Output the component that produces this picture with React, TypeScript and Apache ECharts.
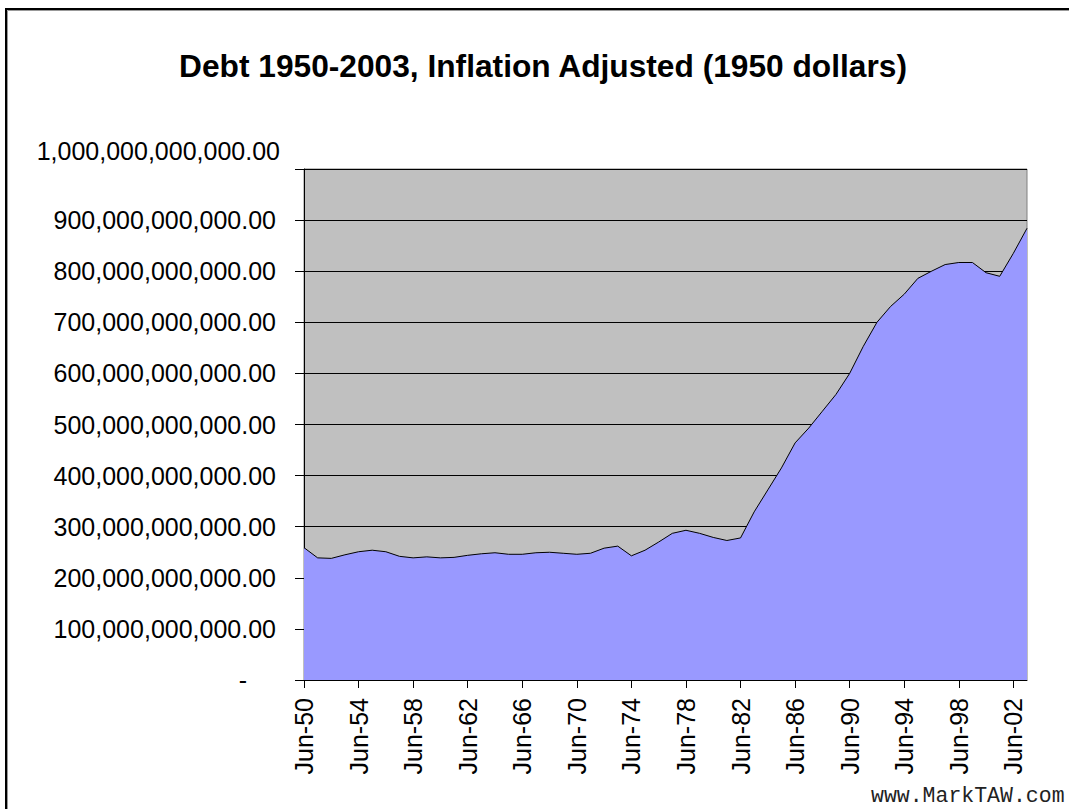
import React, { useEffect, useRef } from "react";
import * as echarts from "echarts";

const years: number[] = [];
for (let y = 1950; y <= 2003; y++) years.push(y);
const categories = years.map((y) => "Jun-" + String(y % 100).padStart(2, "0"));

// Debt in billions of 1950 dollars
const debtBillions = [
  259, 239, 238, 245, 251, 254, 251, 242, 239, 241,
  239, 240, 244, 247, 249, 246, 246, 249, 250, 248,
  246, 248, 258, 262, 243, 254, 270, 287, 293, 287,
  279, 273, 278, 329, 372, 415, 464, 493, 526, 559,
  600, 653, 700, 731, 755, 786, 800, 813, 817, 817,
  797, 790, 835, 884,
];
const debt = debtBillions.map((v) => v * 1e9);

const titleText = "Debt 1950-2003, Inflation Adjusted (1950 dollars)";
const topLabel = "1,000,000,000,000.00";
const watermark = "www.MarkTAW.com";

function fmt(v: number): string {
  const s = Math.round(v).toString();
  return s.replace(/\B(?=(\d{3})+(?!\d))/g, ",") + ".00";
}

export default function App() {
  const ref = useRef<HTMLDivElement>(null);
  useEffect(() => {
    if (!ref.current) return;
    const chart = echarts.init(ref.current, undefined, { renderer: "svg" });
    const font = "'Liberation Sans', Arial, sans-serif";
    chart.setOption({
      animation: false,
      backgroundColor: "#ffffff",
      grid: {
        left: 304,
        right: 42,
        top: 169,
        bottom: 129,
        show: true,
        backgroundColor: "#C0C0C0",
        borderColor: "#808080",
        borderWidth: 1,
      },
      xAxis: {
        type: "category",
        data: categories,
        boundaryGap: false,
        axisLine: { lineStyle: { color: "#000", width: 1 } },
        axisTick: { interval: 3, length: 8, lineStyle: { color: "#000" } },
        axisLabel: {
          interval: 3,
          rotate: 90,
          margin: 18,
          fontFamily: font,
          fontSize: 25,
          color: "#000",
        },
        splitLine: { show: false },
      },
      yAxis: {
        type: "value",
        min: 0,
        max: 1e12,
        interval: 1e11,
        axisLine: { show: true, lineStyle: { color: "#000", width: 1 } },
        axisTick: { show: true, length: 9, lineStyle: { color: "#000" } },
        axisLabel: {
          margin: 28,
          fontFamily: font,
          fontSize: 25,
          color: "#000",
          formatter: (v: number) => (v === 0 ? "{d|-}" : v >= 1e12 ? "" : fmt(v)),
          rich: { d: { fontFamily: font, fontSize: 25, color: "#000", padding: [0, 29, 0, 0] } },
        },
        splitLine: { show: true, lineStyle: { color: "#000", width: 1 } },
      },
      series: [
        {
          type: "line",
          data: debt,
          symbol: "none",
          lineStyle: { color: "#000", width: 1 },
          areaStyle: { color: "#9999FF", opacity: 1 },
          z: 1,
        },
      ],
      graphic: [
        {
          type: "rect",
          shape: { x: 6, y: 9, width: 1200, height: 1000 },
          style: { fill: "none", stroke: "#000", lineWidth: 2 },
          silent: true,
        },
        {
          type: "rect",
          shape: { x: 7.5, y: 10.5, width: 1200, height: 1000 },
          style: { fill: "none", stroke: "#999", lineWidth: 1 },
          silent: true,
        },
        {
          type: "text",
          x: 543,
          y: 66,
          style: {
            text: titleText,
            fontFamily: font,
            fontSize: 31.7,
            fontWeight: "bold",
            fill: "#000",
            textAlign: "center",
            textVerticalAlign: "middle",
          },
        },
        {
          type: "text",
          x: 280,
          y: 151,
          style: {
            text: topLabel,
            fontFamily: font,
            fontSize: 25,
            fill: "#000",
            textAlign: "right",
            textVerticalAlign: "middle",
          },
        },
        {
          type: "text",
          x: 871,
          y: 796,
          style: {
            text: watermark,
            fontFamily: "'Liberation Mono', 'Courier New', monospace",
            fontSize: 21.5,
            fill: "#222",
            textAlign: "left",
            textVerticalAlign: "middle",
          },
        },
      ],
    });
    return () => chart.dispose();
  }, []);
  return (
    <div
      ref={ref}
      style={{ position: "fixed", left: 0, top: 0, width: 1069, height: 809 }}
    />
  );
}
